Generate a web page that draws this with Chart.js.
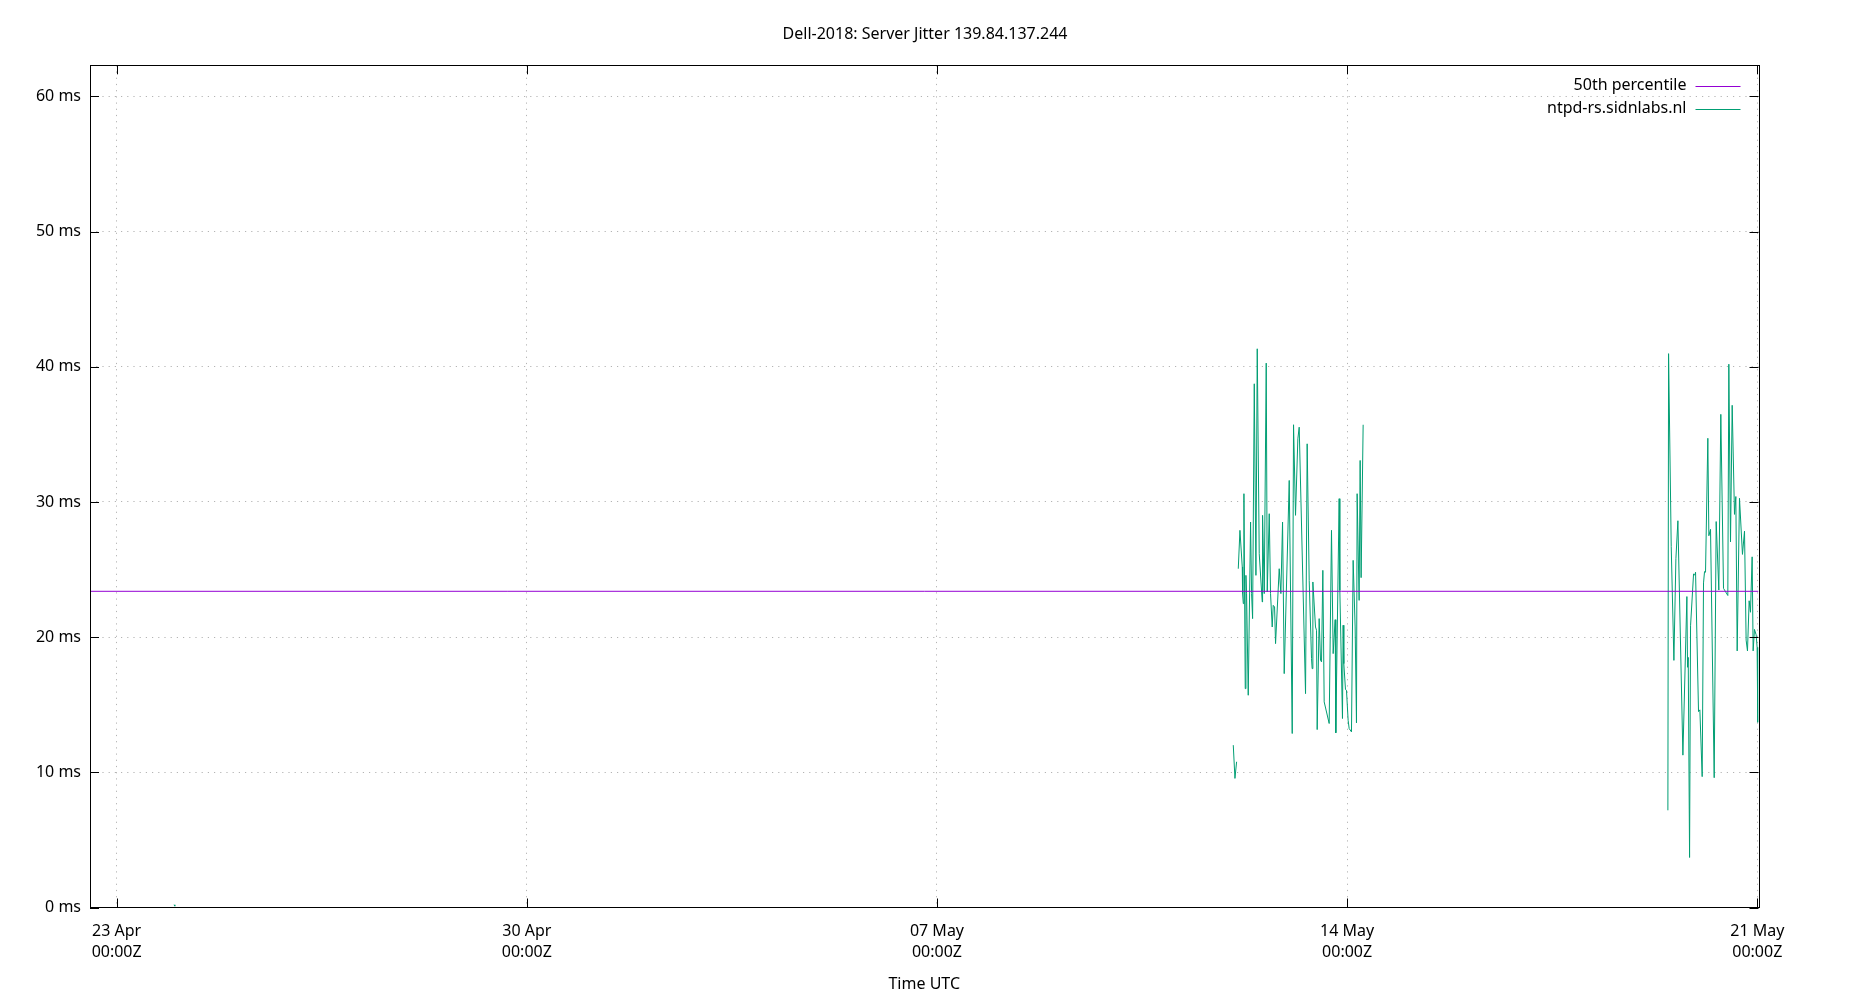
<!DOCTYPE html>
<html>
<head>
<meta charset="utf-8">
<script src="https://cdn.jsdelivr.net/npm/chart.js@4.4.1/dist/chart.umd.min.js"></script>
<style>
html,body{margin:0;padding:0;background:#ffffff;}
#wrap{width:1850px;height:1000px;position:relative;}
</style>
</head>
<body>
<div id="wrap"><canvas id="c"></canvas></div>
<script>
// ---------------- data ----------------
const chartTitle = 'Dell-2018: Server Jitter 139.84.137.244';
const xAxisTitle = 'Time UTC';
const seriesNames = ['50th percentile', 'ntpd-rs.sidnlabs.nl'];
const seriesColors = ['#9400d3', '#009e73'];
const xRange = ['2025-04-22T13:05Z', '2025-05-21T00:30Z'];
const yRange = [0, 62.3];
const xTickTimes = ['2025-04-23T00:00Z', '2025-04-30T00:00Z', '2025-05-07T00:00Z', '2025-05-14T00:00Z', '2025-05-21T00:00Z'];
const xTickLabels = [['23 Apr', '00:00Z'], ['30 Apr', '00:00Z'], ['07 May', '00:00Z'], ['14 May', '00:00Z'], ['21 May', '00:00Z']];
const yTickValues = [0, 10, 20, 30, 40, 50, 60];
const yTickUnit = ' ms';
const medianValue = 23.39;

const jitterTimes = [
  '2025-04-23T23:30Z', '2025-04-23T23:50Z', '2025-04-30T00:00Z',
  '2025-05-12T01:22Z', '2025-05-12T02:03Z', '2025-05-12T02:44Z', '2025-05-12T03:05Z',
  '2025-05-12T03:25Z', '2025-05-12T04:06Z', '2025-05-12T05:03Z', '2025-05-12T05:11Z', '2025-05-12T05:28Z',
  '2025-05-12T05:44Z', '2025-05-12T06:16Z', '2025-05-12T06:33Z', '2025-05-12T06:49Z', '2025-05-12T07:30Z',
  '2025-05-12T08:27Z', '2025-05-12T08:52Z', '2025-05-12T09:17Z', '2025-05-12T09:58Z', '2025-05-12T10:39Z',
  '2025-05-12T11:11Z', '2025-05-12T12:00Z', '2025-05-12T13:14Z', '2025-05-12T13:22Z', '2025-05-12T14:03Z',
  '2025-05-12T14:52Z', '2025-05-12T15:17Z', '2025-05-12T16:06Z', '2025-05-12T16:38Z', '2025-05-12T17:19Z',
  '2025-05-12T17:44Z', '2025-05-12T18:17Z', '2025-05-12T18:41Z', '2025-05-12T20:11Z', '2025-05-12T20:52Z',
  '2025-05-12T21:33Z', '2025-05-12T22:14Z',
  '2025-05-13T00:17Z', '2025-05-13T01:31Z', '2025-05-13T02:03Z', '2025-05-13T02:52Z', '2025-05-13T03:49Z',
  '2025-05-13T04:22Z', '2025-05-13T06:58Z', '2025-05-13T07:38Z', '2025-05-13T08:28Z', '2025-05-13T09:25Z',
  '2025-05-13T09:41Z', '2025-05-13T09:58Z', '2025-05-13T11:03Z', '2025-05-13T11:28Z', '2025-05-13T11:44Z',
  '2025-05-13T12:33Z', '2025-05-13T13:06Z', '2025-05-13T13:31Z', '2025-05-13T14:03Z', '2025-05-13T14:36Z',
  '2025-05-13T16:39Z', '2025-05-13T17:36Z', '2025-05-13T18:17Z', '2025-05-13T19:06Z', '2025-05-13T19:22Z',
  '2025-05-13T20:44Z', '2025-05-13T21:01Z', '2025-05-13T22:06Z', '2025-05-13T22:22Z', '2025-05-13T22:39Z',
  '2025-05-13T23:20Z', '2025-05-13T23:44Z',
  '2025-05-14T00:25Z', '2025-05-14T00:50Z', '2025-05-14T01:47Z', '2025-05-14T02:28Z', '2025-05-14T03:17Z',
  '2025-05-14T03:50Z', '2025-05-14T04:06Z', '2025-05-14T04:55Z', '2025-05-14T05:20Z', '2025-05-14T05:44Z',
  '2025-05-14T06:34Z',
  '2025-05-16T00:00Z',
  '2025-05-19T11:23Z', '2025-05-19T11:40Z', '2025-05-19T12:45Z', '2025-05-19T13:51Z', '2025-05-19T14:40Z',
  '2025-05-19T15:29Z', '2025-05-19T17:32Z', '2025-05-19T19:10Z', '2025-05-19T19:26Z', '2025-05-19T19:43Z',
  '2025-05-19T20:16Z', '2025-05-19T20:40Z', '2025-05-19T21:54Z', '2025-05-19T22:26Z', '2025-05-19T22:43Z',
  '2025-05-19T23:56Z',
  '2025-05-20T00:29Z', '2025-05-20T01:26Z', '2025-05-20T01:59Z', '2025-05-20T02:24Z', '2025-05-20T02:48Z',
  '2025-05-20T03:45Z', '2025-05-20T04:10Z', '2025-05-20T04:51Z', '2025-05-20T06:21Z', '2025-05-20T07:10Z',
  '2025-05-20T08:15Z', '2025-05-20T09:04Z', '2025-05-20T10:10Z', '2025-05-20T11:56Z', '2025-05-20T12:21Z',
  '2025-05-20T13:02Z', '2025-05-20T13:43Z', '2025-05-20T14:40Z', '2025-05-20T15:13Z', '2025-05-20T15:46Z',
  '2025-05-20T16:43Z', '2025-05-20T17:56Z', '2025-05-20T18:46Z', '2025-05-20T19:26Z', '2025-05-20T19:59Z',
  '2025-05-20T20:40Z', '2025-05-20T21:13Z', '2025-05-20T21:54Z', '2025-05-20T22:18Z', '2025-05-20T22:51Z',
  '2025-05-20T23:32Z', '2025-05-20T23:56Z',
  '2025-05-21T00:13Z'
];
const jitterValues = [
  0.2, 0.1, null,
  12.01, 9.55, 10.78, null,
  25.06, 27.90, 25.19, 23.22, 22.48,
  30.61, 16.19, 24.57, 23.22, 15.70,
  28.51, 23.22, 21.37, 38.74, 24.57,
  41.33, 26.17, 22.60, 29.01, 23.22,
  40.27, 23.34, 29.13, 23.22, 20.75,
  22.35, 22.23, 19.52, 25.06, 23.22,
  28.51, 17.30,
  31.59, 12.87, 35.71, 29.01, 34.67,
  35.53, 15.82, 34.30, 24.20, 18.41,
  17.67, 24.08, 20.75, 20.51, 13.16,
  21.37, 18.29, 18.17, 24.94, 15.21,
  13.61, 27.90, 18.78, 21.29, 12.92,
  30.24, 23.46, 13.98, 20.88, 18.04,
  16.12, 16.07,
  13.85, 13.24, 12.99, 25.68, 20.75,
  13.66, 30.61, 22.72, 33.07, 24.40,
  35.71,
  null,
  7.19, 40.97, 26.69, 18.28, 25.80,
  28.61, 11.27, 23.00, 17.77, 18.50,
  3.70, 20.84, 24.67, 24.59, 24.80,
  14.49,
  14.62, 9.68, 24.01, 24.85, 24.80,
  34.71, 27.50, 27.97, 9.60, 28.55,
  23.48, 36.48, 23.61, 23.08, 40.19,
  27.05, 37.15, 29.08, 30.40, 18.98,
  30.27, 26.12, 27.84, 19.78, 18.98,
  22.69, 21.84, 25.94, 18.98, 20.57,
  20.17, 19.25,
  13.70
];

// ---------------- chart ----------------
const FONT = '"Noto Sans", "Open Sans", "DejaVu Sans", sans-serif';
const toMs = s => Date.parse(s);
const xMin = toMs(xRange[0]);
const xMax = toMs(xRange[1]);

const medianData = [{x: xMin, y: medianValue}, {x: xMax, y: medianValue}];
const jitterData = jitterTimes.map((t, i) => ({x: toMs(t), y: jitterValues[i]}));

const gnuplotFrame = {
  id: 'gnuplotFrame',
  afterDatasetsDraw(chart) {
    const {ctx, chartArea: a, scales} = chart;
    ctx.save();
    ctx.strokeStyle = '#000000';
    ctx.lineWidth = 1;
    const tl = 9;
    ctx.beginPath();
    scales.x.ticks.forEach(t => {
      const px = Math.round(scales.x.getPixelForValue(t.value)) + 0.5;
      ctx.moveTo(px, a.bottom); ctx.lineTo(px, a.bottom - tl);
      ctx.moveTo(px, a.top); ctx.lineTo(px, a.top + tl);
    });
    scales.y.ticks.forEach(t => {
      const py = Math.round(scales.y.getPixelForValue(t.value)) + 0.5;
      ctx.moveTo(a.left, py); ctx.lineTo(a.left + tl, py);
      ctx.moveTo(a.right, py); ctx.lineTo(a.right - tl, py);
    });
    ctx.stroke();
    ctx.strokeRect(Math.round(a.left) + 0.5, Math.round(a.top) + 0.5,
                   Math.round(a.right - a.left), Math.round(a.bottom - a.top));
    // legend (text, then line sample, like gnuplot)
    ctx.font = '16px ' + FONT;
    ctx.textAlign = 'right';
    ctx.textBaseline = 'middle';
    const textRight = a.right - 72;
    const rowY = [a.top + 20.2, a.top + 43.2];
    seriesNames.forEach((name, i) => {
      ctx.fillStyle = '#000000';
      ctx.fillText(name, textRight, rowY[i]);
      ctx.strokeStyle = seriesColors[i];
      ctx.beginPath();
      ctx.moveTo(textRight + 9, Math.round(rowY[i]) + 0.5);
      ctx.lineTo(textRight + 54, Math.round(rowY[i]) + 0.5);
      ctx.stroke();
    });
    ctx.restore();
  }
};

const gridStyle = {color: '#b4b4b4', lineWidth: 1, drawTicks: false};
const borderStyle = {display: false, dash: [1.2, 5]};

new Chart(document.getElementById('c'), {
  type: 'line',
  data: {
    datasets: [
      {label: seriesNames[0], data: medianData, borderColor: seriesColors[0], borderWidth: 1},
      {label: seriesNames[1], data: jitterData, borderColor: seriesColors[1], borderWidth: 1}
    ]
  },
  options: {
    responsive: true,
    maintainAspectRatio: false,
    animation: false,
    spanGaps: false,
    elements: {point: {radius: 0, hoverRadius: 0}, line: {tension: 0, fill: false}},
    layout: {padding: 0},
    plugins: {
      legend: {display: false},
      tooltip: {enabled: false},
      title: {
        display: true, text: chartTitle, color: '#000000',
        font: {family: FONT, size: 16, weight: 'normal', lineHeight: 1.2},
        padding: {top: 24.6, bottom: 21.5}
      }
    },
    scales: {
      x: {
        type: 'linear', min: xMin, max: xMax,
        afterBuildTicks: s => { s.ticks = xTickTimes.map(t => ({value: toMs(t)})); },
        ticks: {
          autoSkip: false, maxRotation: 0, minRotation: 0, padding: 13, color: '#000000',
          font: {family: FONT, size: 16, lineHeight: 1.33},
          callback: (v, i) => xTickLabels[i]
        },
        grid: gridStyle,
        border: borderStyle,
        title: {
          display: true, text: xAxisTitle, color: '#000000',
          font: {family: FONT, size: 16, lineHeight: 1.2},
          padding: {top: 0, bottom: 6.4}
        },
        afterFit: s => { s.height = 92.5; s.paddingLeft = 0; s.paddingRight = 0; }
      },
      y: {
        type: 'linear', position: 'left', min: yRange[0], max: yRange[1],
        afterBuildTicks: s => { s.ticks = yTickValues.map(v => ({value: v})); },
        ticks: {
          padding: 9, color: '#000000',
          font: {family: FONT, size: 16},
          callback: v => v + yTickUnit
        },
        grid: gridStyle,
        border: borderStyle,
        afterFit: s => { s.width = 90; s.paddingTop = 0; s.paddingBottom = 0; }
      },
      yRight: {
        type: 'linear', position: 'right', min: yRange[0], max: yRange[1],
        ticks: {display: false},
        grid: {display: false, drawTicks: false},
        border: {display: false},
        afterFit: s => { s.width = 91.5; s.paddingTop = 0; s.paddingBottom = 0; }
      }
    }
  },
  plugins: [gnuplotFrame]
});
</script>
</body>
</html>
